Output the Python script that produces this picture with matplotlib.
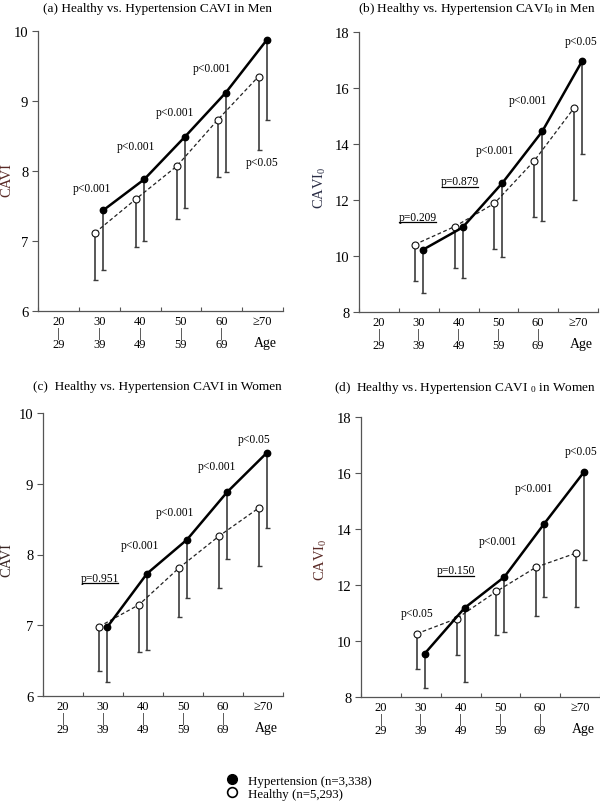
import numpy as np
import matplotlib
matplotlib.use("Agg")
import matplotlib.pyplot as plt
from matplotlib.lines import Line2D

plt.rcParams['font.family'] = ['Liberation Serif', 'DejaVu Serif']
plt.rcParams['mathtext.fontset'] = 'custom'
plt.rcParams['mathtext.rm'] = 'Liberation Serif'
plt.rcParams['mathtext.it'] = 'Liberation Serif:italic'

# ---------------- data ----------------
age_top = ["20", "30", "40", "50", "60", "\u226570"]
age_bottom = ["29", "39", "49", "59", "69", ""]
# data available for 30-39 ... >=70 (category index 1..5)
data_idx = [1, 2, 3, 4, 5]

men_cavi_htn = [7.44, 7.88, 8.49, 9.12, 9.87]
men_cavi_htn_sd = [0.85, 0.88, 1.02, 1.14, 1.14]
men_cavi_hlt = [7.12, 7.60, 8.07, 8.73, 9.35]
men_cavi_hlt_sd = [0.68, 0.69, 0.76, 0.81, 1.05]

men_cavi0_htn = [10.22, 11.02, 12.61, 14.45, 16.96]
men_cavi0_htn_sd = [1.53, 1.81, 2.65, 3.21, 3.33]
men_cavi0_hlt = [10.41, 11.05, 11.88, 13.40, 15.29]
men_cavi0_hlt_sd = [1.32, 1.48, 1.64, 1.99, 3.30]

women_cavi_htn = [6.97, 7.73, 8.21, 8.88, 9.44]
women_cavi_htn_sd = [0.77, 1.08, 0.83, 0.94, 1.06]
women_cavi_hlt = [6.98, 7.29, 7.81, 8.26, 8.66]
women_cavi_hlt_sd = [0.63, 0.67, 0.69, 0.74, 0.82]

women_cavi0_htn = [9.55, 11.18, 12.29, 14.19, 16.04]
women_cavi0_htn_sd = [1.23, 2.64, 1.97, 2.62, 3.16]
women_cavi0_hlt = [10.26, 10.80, 11.77, 12.64, 13.14]
women_cavi0_hlt_sd = [1.25, 1.29, 1.57, 1.75, 1.93]

p_a = ["p<0.001", "p<0.001", "p<0.001", "p<0.001", "p<0.05"]
p_b = ["p=0.209", "p=0.879", "p<0.001", "p<0.001", "p<0.05"]
p_c = ["p=0.951", "p<0.001", "p<0.001", "p<0.001", "p<0.05"]
p_d = ["p<0.05", "p=0.150", "p<0.001", "p<0.001", "p<0.05"]

legend_labels = ["Hypertension (n=3,338)", "Healthy (n=5,293)"]

# ---------------- layout ----------------
W, H = 600, 803
fig = plt.figure(figsize=(W / 100, H / 100), dpi=100)

def ax_rect(l, r, t, b):
    return [l / W, 1 - b / H, (r - l) / W, (b - t) / H]

panels = [
    dict(rect=ax_rect(38, 283, 32, 312), ylim=(6, 10), yticks=[6, 7, 8, 9, 10],
         htn=men_cavi_htn, htn_sd=men_cavi_htn_sd, hlt=men_cavi_hlt, hlt_sd=men_cavi_hlt_sd,
         ylabel="CAVI", ylab_color="#5a2a26", ylab_pos=(-0.10, 0.47),
         title="(a) Healthy vs. Hypertension CAVI in Men", title_xy=(158, 9),
         p=p_a, p_x=[1.32, 2.40, 3.36, 4.26, 5.49], p_y=[7.76, 8.36, 8.84, 9.47, 8.13],
         underline=[]),
    dict(rect=ax_rect(359, 598, 33, 313), ylim=(8, 18), yticks=[8, 10, 12, 14, 16, 18],
         htn=men_cavi0_htn, htn_sd=men_cavi0_htn_sd, hlt=men_cavi0_hlt, hlt_sd=men_cavi0_hlt_sd,
         ylabel="CAVI$_0$", ylab_color="#2a2d45", ylab_pos=(-0.128, 0.447),
         title="(b) Healthy vs. Hypertension CAVI$_{\\mathit{0}}$ in Men", title_xy=(477, 9),
         p=p_b, p_x=[1.47, 2.53, 3.41, 4.24, 5.59], p_y=[11.4, 12.67, 13.8, 15.56, 17.68],
         underline=[0, 1]),
    dict(rect=ax_rect(43, 283, 414, 697), ylim=(6, 10), yticks=[6, 7, 8, 9, 10],
         htn=women_cavi_htn, htn_sd=women_cavi_htn_sd, hlt=women_cavi_hlt, hlt_sd=women_cavi_hlt_sd,
         ylabel="CAVI", ylab_color="#3a2624", ylab_pos=(-0.122, 0.485),
         title="(c)  Healthy vs. Hypertension CAVI in Women", title_xy=(157, 387),
         p=p_c, p_x=[1.42, 2.42, 3.29, 4.34, 5.29], p_y=[7.67, 8.14, 8.6, 9.25, 9.63],
         underline=[0]),
    dict(rect=ax_rect(361, 600, 418, 698), ylim=(8, 18), yticks=[8, 10, 12, 14, 16, 18],
         htn=women_cavi0_htn, htn_sd=women_cavi0_htn_sd, hlt=women_cavi0_hlt, hlt_sd=women_cavi0_hlt_sd,
         ylabel="CAVI$_0$", ylab_color="#5a2a26", ylab_pos=(-0.135, 0.493),
         title="(d)  Healthy vs. Hypertension CAVI $_{\\mathit{0}}$ in Women", title_xy=(465, 388),
         p=p_d, p_x=[1.40, 2.39, 3.43, 4.35, 5.52], p_y=[11.0, 12.52, 13.56, 15.48, 16.8],
         underline=[1]),
]

spine_col = "#555555"
err_col = "#3c3c3c"
off = 0.1
underline_texts = []

for P in panels:
    ax = fig.add_axes(P["rect"])
    x = np.array(data_idx) + 0.5
    xh = x - off   # healthy
    xt = x + off   # hypertension
    hlt = np.array(P["hlt"]); hlt_sd = np.array(P["hlt_sd"])
    htn = np.array(P["htn"]); htn_sd = np.array(P["htn_sd"])

    ax.errorbar(xh, hlt, yerr=[hlt_sd, np.zeros_like(hlt_sd)], fmt='none',
                ecolor=err_col, elinewidth=1.2, capsize=1.8, capthick=1.0, zorder=2)
    ax.errorbar(xt, htn, yerr=[htn_sd, np.zeros_like(htn_sd)], fmt='none',
                ecolor=err_col, elinewidth=1.2, capsize=1.8, capthick=1.0, zorder=2)
    ax.plot(xh, hlt, linestyle=(0, (3, 2)), color='#222222', linewidth=0.9,
            marker='o', markersize=5, markerfacecolor='white', markeredgecolor='#111111',
            markeredgewidth=0.8, zorder=3)
    ax.plot(xt, htn, linestyle='-', color='black', linewidth=1.8,
            marker='o', markersize=4.6, markerfacecolor='black', markeredgecolor='black', zorder=4)

    ax.set_xlim(0, 6)
    ax.set_ylim(*P["ylim"])
    ax.set_yticks(P["yticks"])
    ax.set_yticklabels([str(v) for v in P["yticks"]], fontsize=10.5)
    ax.set_xticks(np.arange(0, 7))
    ax.set_xticklabels([])
    ax.set_xticks(np.arange(6) + 0.5, minor=True)
    labs = []
    for tlab, blab in zip(age_top, age_bottom):
        labs.append(tlab + "\n|\n" + blab if blab else tlab)
    ax.set_xticklabels(labs, minor=True, fontsize=9, linespacing=0.95)
    ax.tick_params(axis='x', which='minor', length=0, pad=3)
    ax.tick_params(axis='x', which='major', direction='in', length=3, color=spine_col)
    ax.tick_params(axis='y', direction='out', length=4, color=spine_col, pad=3)
    for s in ['top', 'right']:
        ax.spines[s].set_visible(False)
    for s in ['left', 'bottom']:
        ax.spines[s].set_color(spine_col)
        ax.spines[s].set_linewidth(0.9)

    ax.annotate("Age", xy=(5.58, 0), xycoords=('data', 'axes fraction'),
                xytext=(0, -22.5), textcoords='offset points', ha='center', va='center',
                fontsize=10, annotation_clip=False)

    ax.set_ylabel(P["ylabel"], fontsize=10.5, color=P["ylab_color"])
    ax.yaxis.set_label_coords(*P["ylab_pos"])

    for i, (txt, px, py) in enumerate(zip(P["p"], P["p_x"], P["p_y"])):
        t = ax.text(px, py, txt, fontsize=8.3, ha='center', va='center', clip_on=False)
        if i in P["underline"]:
            underline_texts.append(t)

    tx, ty = P["title_xy"]
    fig.text(tx / W, 1 - ty / H, P["title"], fontsize=9.5, ha='center', va='center')

# legend
handles = [Line2D([], [], linestyle='none', marker='o', markersize=7,
                  markerfacecolor='black', markeredgecolor='black'),
           Line2D([], [], linestyle='none', marker='o', markersize=7,
                  markerfacecolor='white', markeredgecolor='black', markeredgewidth=1.2)]
fig.legend(handles, legend_labels, loc='upper left', bbox_to_anchor=(218 / W, 1 - 769 / H),
           frameon=False, fontsize=9.3, handletextpad=0.6, labelspacing=0.1,
           borderpad=0, handlelength=1.2)

# underline selected p-values
fig.canvas.draw()
inv = fig.transFigure.inverted()
for t in underline_texts:
    bb = t.get_window_extent()
    (x0, y0) = inv.transform((bb.x0 + 1, bb.y0 + 0.5))
    (x1, _) = inv.transform((bb.x1 - 1, bb.y0 + 0.5))
    fig.add_artist(Line2D([x0, x1], [y0, y0], transform=fig.transFigure,
                          color='black', linewidth=0.9))

fig.savefig("out.png", dpi=100)
